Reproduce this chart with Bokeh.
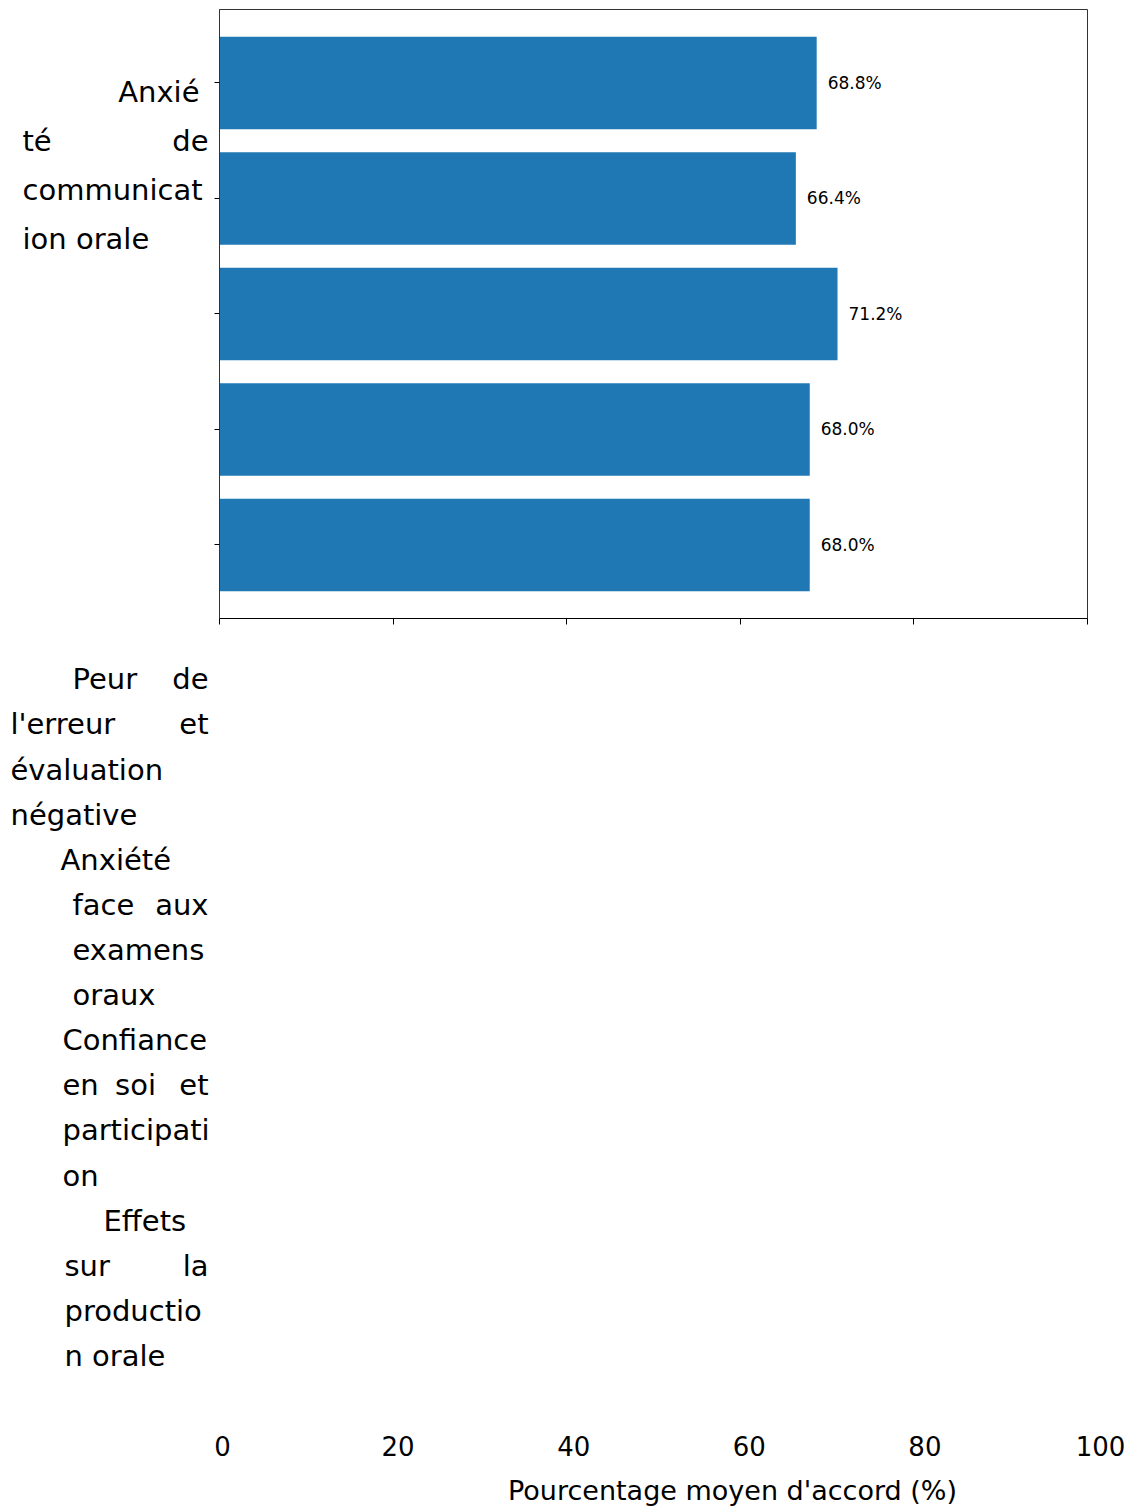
from bokeh.plotting import figure
from bokeh.models import Range1d, FixedTicker, Label, ColumnDataSource
from bokeh.layouts import row, column
from bokeh.embed import file_html
from bokeh.resources import INLINE
from bokeh.core.properties import value

# ---- data ----
categories = [
    "Anxiété de communication orale",
    "Peur de l'erreur et évaluation négative",
    "Anxiété face aux examens oraux",
    "Confiance en soi et participation",
    "Effets sur la production orale",
]
values = [68.8, 66.4, 71.2, 68.0, 68.0]
x_ticks = [0, 20, 40, 60, 80, 100]
x_tick_labels = ["0", "20", "40", "60", "80", "100"]
x_title = "Pourcentage moyen d'accord (%)"

# wrapped category text as it appears (lines -> words)
label_lines = [
    [["Anxié"], ["té", "de"], ["communicat"], ["ion orale"]],
    [["Peur", "de"], ["l'erreur", "et"], ["évaluation"], ["négative"]],
    [["Anxiété"], ["face", "aux"], ["examens"], ["oraux"]],
    [["Confiance"], ["en", "soi", "et"], ["participati"], ["on"]],
    [["Effets"], ["sur", "la"], ["productio"], ["n orale"]],
]

W, H = 1131, 1508
LW = 214          # width of the left label panel
TOPH = 1420       # height of the chart row
FONT = "DejaVu Sans"


def blank(width, height, xr=(0, 1), yr=(0, 1)):
    f = figure(width=width, height=height, output_backend="svg", toolbar_location=None,
               x_axis_type=None, y_axis_type=None, min_border=0,
               x_range=Range1d(*xr), y_range=Range1d(*yr))
    f.outline_line_color = None
    f.background_fill_color = "white"
    f.border_fill_color = "white"
    f.xgrid.visible = False
    f.ygrid.visible = False
    f.frame_align = False
    return f


# ---- main chart ----
p = figure(width=W - LW, height=TOPH, output_backend="svg", toolbar_location=None,
           x_range=Range1d(0, 100), y_range=Range1d(4.637, -0.636),
           min_border_left=5, min_border_right=44, min_border_top=9,
           min_border_bottom=TOPH - 618)
p.frame_align = False
p.background_fill_color = "white"
p.border_fill_color = "white"
p.outline_line_color = "#333333"
p.outline_line_width = 1
p.xgrid.visible = False
p.ygrid.visible = False

idx = list(range(len(categories)))
src = ColumnDataSource(dict(y=idx, v=values, lab=[f"{v:.1f}%" for v in values], cat=categories))
p.hbar(y="y", left=0, right="v", height=0.8, source=src, color="#1f77b4", line_color=None)
p.text(x="v", y="y", text="lab", source=src, x_offset=11, text_baseline="middle",
       text_align="left", text_font=value(FONT), text_font_size="17px", text_color="black")

xa = p.xaxis[0]
xa.ticker = FixedTicker(ticks=x_ticks)
xa.minor_tick_line_color = None
xa.major_tick_out = 6
xa.major_tick_in = 0
xa.axis_line_color = "black"
xa.major_tick_line_color = "black"
xa.major_label_standoff = 0
xa.major_label_overrides = {t: "" for t in x_ticks}

ya = p.yaxis[0]
ya.ticker = FixedTicker(ticks=idx)
ya.minor_tick_line_color = None
ya.major_tick_out = 5
ya.major_tick_in = 0
ya.major_label_standoff = 0
ya.axis_line_color = "#333333"
ya.major_label_overrides = {i: "" for i in idx}

# ---- left panel with the wrapped category names ----
left = blank(LW, TOPH)
line_y = [
    [91, 140, 189, 238],
    [678, 723, 769, 814],
    [859, 904, 949, 994],
    [1039, 1084, 1129, 1175],
    [1220, 1265, 1310, 1355],
]
first_x = [None, 72, 60, 62, 103]
left_x = [22, 10, 72, 62, 64]
right_x = 208


def put(fig, fig_h, text, px, py, align, size):
    fig.add_layout(Label(x=px, y=fig_h - py, x_units="screen", y_units="screen",
                         text=text, text_align=align, text_baseline="middle",
                         text_font=FONT, text_font_size=size, text_color="black"))


for g, lines in enumerate(label_lines):
    for li, words in enumerate(lines):
        py = line_y[g][li]
        lx = first_x[g] if li == 0 and first_x[g] is not None else left_x[g]
        if len(words) == 1:
            if g == 0 and li == 0:
                put(left, TOPH, words[0], 199, py, "right", "29px")
            else:
                put(left, TOPH, words[0], lx, py, "left", "29px")
        else:
            n = len(words)
            for k, w in enumerate(words):
                if k == 0:
                    put(left, TOPH, w, lx, py, "left", "29px")
                elif k == n - 1:
                    put(left, TOPH, w, right_x, py, "right", "29px")
                else:
                    put(left, TOPH, w, lx + (right_x - lx) * k / (n - 1), py, "center", "29px")

# ---- bottom strip: tick labels (spread slightly wider, as in the source) and title ----
BH = H - TOPH
lab_x0, lab_scale = 222, 8.78   # px of tick value 0, px per unit for the labels
bottom = blank(W, BH, xr=((0 - lab_x0) / lab_scale, (W - lab_x0) / lab_scale), yr=(BH, 0))
bottom.text(x=x_ticks, y=[1445 - TOPH] * len(x_ticks), text=x_tick_labels,
            text_align="center", text_baseline="middle", text_font=value(FONT),
            text_font_size="26px", text_color="black")
put(bottom, BH, x_title, 732, 1490 - TOPH, "center", "27px")

layout = column(row(left, p, spacing=0), bottom, spacing=0)
open("out.html", "w").write(file_html(layout, INLINE))
